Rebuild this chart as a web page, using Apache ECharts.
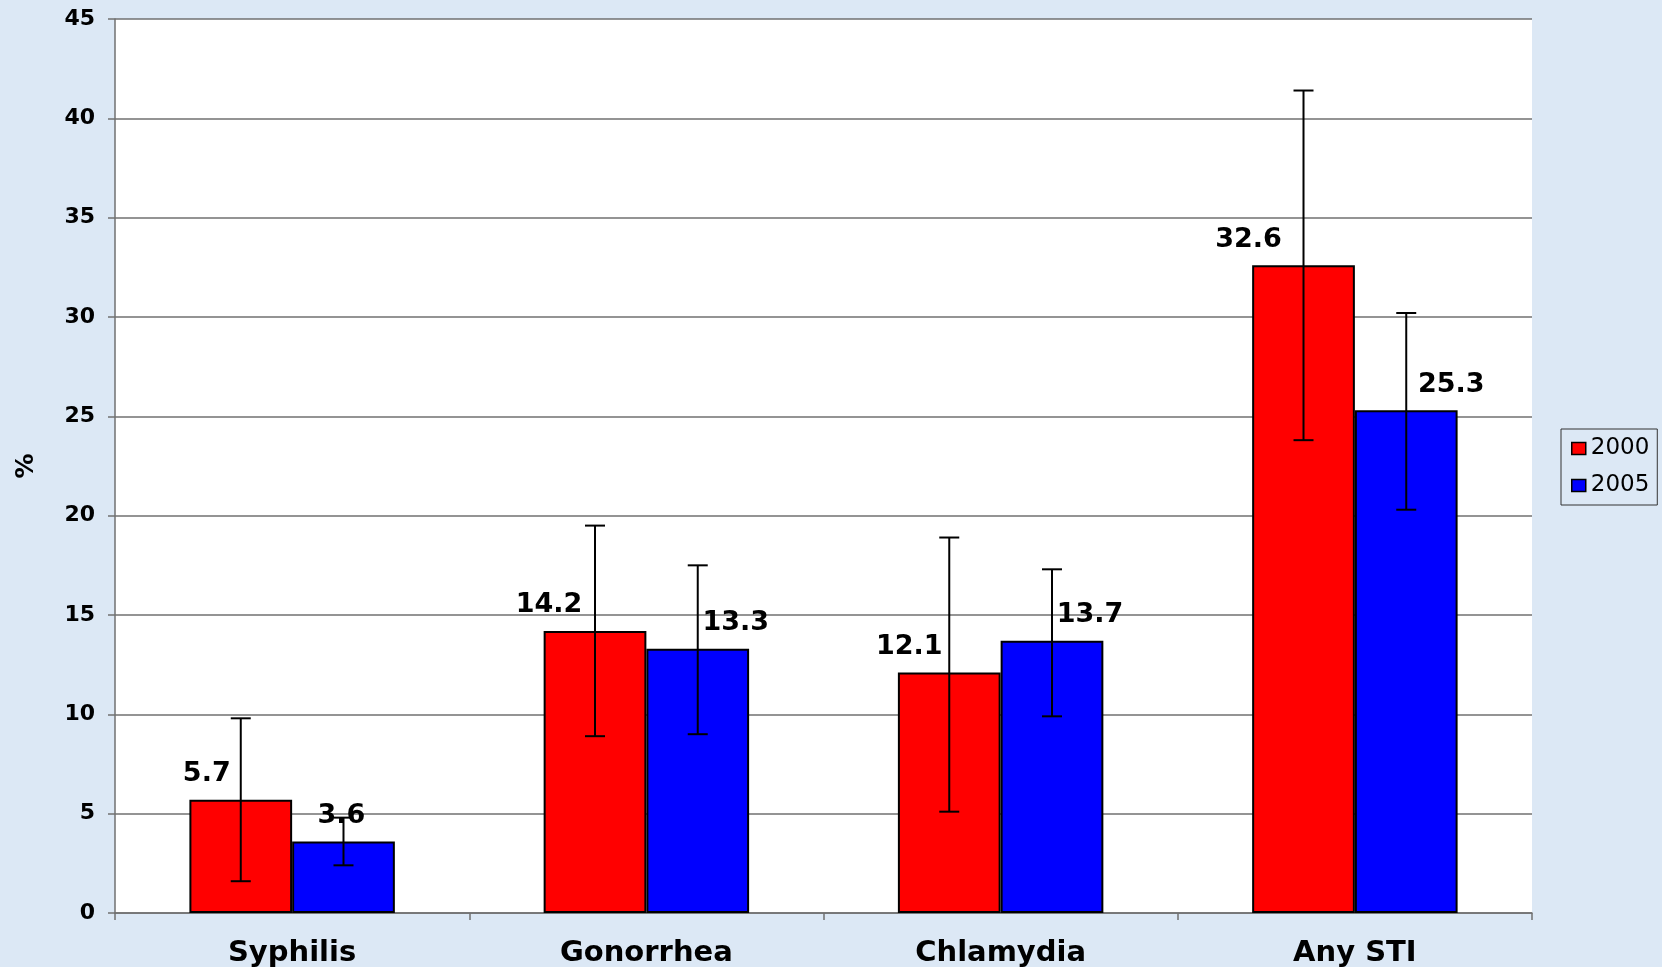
<!DOCTYPE html>
<html>
<head>
<meta charset="utf-8">
<script src="https://cdn.jsdelivr.net/npm/echarts@6/dist/echarts.min.js"></script>
<style>
  html, body { margin: 0; padding: 0; background: #dce8f5; }
  #chart { width: 1662px; height: 967px; }
</style>
</head>
<body>
<div id="chart"></div>
<script>
// ---- data ----
const categories = ['Syphilis', 'Gonorrhea', 'Chlamydia', 'Any STI'];
const seriesNames = ['2000', '2005'];
const values2000 = [5.7, 14.2, 12.1, 32.6];
const values2005 = [3.6, 13.3, 13.7, 25.3];
const low2000 = [1.6, 8.9, 5.1, 23.8];
const high2000 = [9.8, 19.5, 18.9, 41.4];
const low2005 = [2.4, 9.0, 9.9, 20.3];
const high2005 = [4.8, 17.5, 17.3, 30.2];
const yMin = 0, yMax = 45, yInterval = 5;

// ---- layout (label nudges, px) ----
const labelDx2000 = [-34, -46, -40, -55];
const labelDx2005 = [-2, 38, 38, 45];
const BAR_FRAC = 0.29;

const chart = echarts.init(document.getElementById('chart'));
const FONT = 'DejaVu Sans';

function barData(vals, dx) {
  return vals.map((v, i) => ({ value: v, label: { offset: [dx[i], 0] } }));
}
function errData(lo, hi) {
  return lo.map((l, i) => [i, l, hi[i]]);
}
function errRender(side) {
  return function (params, api) {
    const idx = api.value(0);
    const lo = api.coord([idx, api.value(1)]);
    const hi = api.coord([idx, api.value(2)]);
    const band = api.size([1, 0])[0];
    const bw = band * BAR_FRAC;
    const x = lo[0] + side * bw / 2;
    const cap = 10;
    const style = { stroke: '#000', lineWidth: 2 };
    return {
      type: 'group',
      children: [
        { type: 'line', shape: { x1: x, y1: lo[1], x2: x, y2: hi[1] }, style },
        { type: 'line', shape: { x1: x - cap, y1: lo[1], x2: x + cap, y2: lo[1] }, style },
        { type: 'line', shape: { x1: x - cap, y1: hi[1], x2: x + cap, y2: hi[1] }, style }
      ]
    };
  };
}

const gray = '#707070';
const labelStyle = {
  show: true, position: 'top', distance: 12,
  fontFamily: FONT, fontWeight: 'bold', fontSize: 27, color: '#000'
};

chart.setOption({
  backgroundColor: '#dce8f5',
  animation: false,
  grid: { left: 115, right: 130, top: 19, bottom: 54, outerBoundsMode: 'none',
          show: true, backgroundColor: '#ffffff', borderWidth: 0 },
  legend: {
    data: seriesNames,
    orient: 'vertical',
    left: 1561, top: 429,
    padding: [8, 8, 8, 10],
    itemGap: 14,
    itemWidth: 14, itemHeight: 12,
    itemTextGap: 10,
    borderColor: '#333', borderWidth: 1,
    icon: 'rect',
    itemStyle: { borderColor: '#000', borderWidth: 1.5 },
    textStyle: { fontFamily: FONT, fontSize: 23, color: '#000' }
  },
  xAxis: {
    type: 'category',
    data: categories,
    axisLine: { lineStyle: { color: gray, width: 1.5 } },
    axisTick: { show: true, length: 7, lineStyle: { color: gray, width: 1.5 } },
    axisLabel: { interval: 0, margin: 26, fontFamily: FONT, fontWeight: 'bold', fontSize: 29, color: '#000' },
    splitLine: { show: false }
  },
  yAxis: {
    type: 'value',
    min: yMin, max: yMax, interval: yInterval,
    name: '%',
    nameLocation: 'middle',
    nameRotate: 90,
    nameGap: 76,
    nameTextStyle: { fontFamily: FONT, fontWeight: 'bold', fontSize: 25, color: '#000' },
    axisLine: { show: true, lineStyle: { color: gray, width: 1.5 } },
    axisTick: { show: true, length: 7, lineStyle: { color: gray, width: 1.5 } },
    axisLabel: { margin: 20, fontFamily: FONT, fontWeight: 'bold', fontSize: 22, color: '#000' },
    splitLine: { show: true, lineStyle: { color: gray, width: 1.5 } }
  },
  series: [
    {
      name: seriesNames[0], type: 'bar', barWidth: (BAR_FRAC * 100) + '%', barGap: '0%',
      itemStyle: { color: '#ff0000', borderColor: '#000', borderWidth: 2 },
      label: labelStyle,
      data: barData(values2000, labelDx2000), z: 2
    },
    {
      name: seriesNames[1], type: 'bar', barWidth: (BAR_FRAC * 100) + '%', barGap: '0%',
      itemStyle: { color: '#0000ff', borderColor: '#000', borderWidth: 2 },
      label: labelStyle,
      data: barData(values2005, labelDx2005), z: 2
    },
    {
      name: 'err2000', type: 'custom', renderItem: errRender(-1),
      data: errData(low2000, high2000), z: 10, silent: true,
      encode: { x: 0, y: [1, 2] }
    },
    {
      name: 'err2005', type: 'custom', renderItem: errRender(1),
      data: errData(low2005, high2005), z: 10, silent: true,
      encode: { x: 0, y: [1, 2] }
    }
  ]
});
</script>
</body>
</html>
